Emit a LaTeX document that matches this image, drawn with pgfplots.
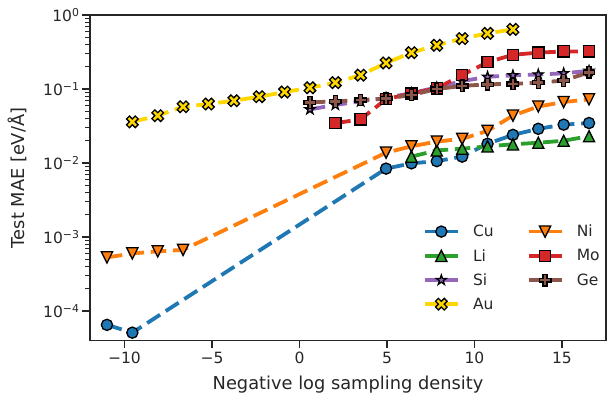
\documentclass[border=0pt]{standalone}
\usepackage{fontspec}
\setmainfont{DejaVu Sans}
\usepackage{pgfplots}
\pgfplotsset{compat=1.18}

\definecolor{cCu}{HTML}{1F77B4}
\definecolor{cLi}{HTML}{2CA02C}
\definecolor{cSi}{HTML}{9467BD}
\definecolor{cAu}{HTML}{FFD700}
\definecolor{cNi}{HTML}{FF7F0E}
\definecolor{cMo}{HTML}{D62728}
\definecolor{cGe}{HTML}{8C564B}
\definecolor{spine}{HTML}{262626}

\newcommand{\mpt}[2]{\pgfpoint{#1\pgfplotmarksize}{#2\pgfplotmarksize}}
\pgfdeclareplotmark{mtriup}{%
  \pgfpathmoveto{\mpt{0}{1}}\pgfpathlineto{\mpt{-1}{-1}}\pgfpathlineto{\mpt{1}{-1}}%
  \pgfpathclose\pgfusepathqfillstroke}
\pgfdeclareplotmark{mtridown}{%
  \pgfpathmoveto{\mpt{0}{-1}}\pgfpathlineto{\mpt{-1}{1}}\pgfpathlineto{\mpt{1}{1}}%
  \pgfpathclose\pgfusepathqfillstroke}
\pgfdeclareplotmark{mstar}{%
  \pgfpathmoveto{\pgfpointpolar{90}{\pgfplotmarksize}}%
  \pgfpathlineto{\pgfpointpolar{126}{0.382\pgfplotmarksize}}%
  \pgfpathlineto{\pgfpointpolar{162}{\pgfplotmarksize}}%
  \pgfpathlineto{\pgfpointpolar{198}{0.382\pgfplotmarksize}}%
  \pgfpathlineto{\pgfpointpolar{234}{\pgfplotmarksize}}%
  \pgfpathlineto{\pgfpointpolar{270}{0.382\pgfplotmarksize}}%
  \pgfpathlineto{\pgfpointpolar{306}{\pgfplotmarksize}}%
  \pgfpathlineto{\pgfpointpolar{342}{0.382\pgfplotmarksize}}%
  \pgfpathlineto{\pgfpointpolar{18}{\pgfplotmarksize}}%
  \pgfpathlineto{\pgfpointpolar{54}{0.382\pgfplotmarksize}}%
  \pgfpathclose\pgfusepathqfillstroke}
\pgfdeclareplotmark{mplus}{%
  \pgfpathmoveto{\mpt{-0.3333}{-1}}\pgfpathlineto{\mpt{0.3333}{-1}}%
  \pgfpathlineto{\mpt{0.3333}{-0.3333}}\pgfpathlineto{\mpt{1}{-0.3333}}%
  \pgfpathlineto{\mpt{1}{0.3333}}\pgfpathlineto{\mpt{0.3333}{0.3333}}%
  \pgfpathlineto{\mpt{0.3333}{1}}\pgfpathlineto{\mpt{-0.3333}{1}}%
  \pgfpathlineto{\mpt{-0.3333}{0.3333}}\pgfpathlineto{\mpt{-1}{0.3333}}%
  \pgfpathlineto{\mpt{-1}{-0.3333}}\pgfpathlineto{\mpt{-0.3333}{-0.3333}}%
  \pgfpathclose\pgfusepathqfillstroke}
\pgfdeclareplotmark{mx}{%
  \pgfpathmoveto{\mpt{-0.5}{-1}}\pgfpathlineto{\mpt{0}{-0.5}}%
  \pgfpathlineto{\mpt{0.5}{-1}}\pgfpathlineto{\mpt{1}{-0.5}}%
  \pgfpathlineto{\mpt{0.5}{0}}\pgfpathlineto{\mpt{1}{0.5}}%
  \pgfpathlineto{\mpt{0.5}{1}}\pgfpathlineto{\mpt{0}{0.5}}%
  \pgfpathlineto{\mpt{-0.5}{1}}\pgfpathlineto{\mpt{-1}{0.5}}%
  \pgfpathlineto{\mpt{-0.5}{0}}\pgfpathlineto{\mpt{-1}{-0.5}}%
  \pgfpathclose\pgfusepathqfillstroke}

\newcommand{\sups}[1]{\raisebox{4.3pt}{\fontsize{10.9}{11}\selectfont #1}}

\pgfplotsset{
  ser/.style n args={3}{color=#1, line width=3.8pt, dash pattern=on 15.4pt off 6.7pt,
    mark=#2, mark size=#3,
    mark options={solid, draw=black, fill=#1, line width=1.3pt}},
}

\begin{document}
\begin{tikzpicture}
\begin{axis}[
  name=ax,
  scale only axis, width=516pt, height=325.7pt,
  xmin=-11.97, xmax=17.52,
  ymode=log, ymin=3.97e-5, ymax=1,
  axis line style={draw=spine, line width=1.3pt},
  tick pos=left, tick align=outside,
  major tick length=7.5pt, minor tick length=4.5pt,
  tick style={draw=spine, line width=1.3pt},
  minor tick style={line width=1pt},
  xtick={-10,-5,0,5,10,15},
  xticklabels={−10,−5,0,5,10,15},
  ytick={1e-4,1e-3,1e-2,1e-1,1},
  yticklabels={10\sups{−4},10\sups{−3},10\sups{−2},10\sups{−1},10\sups{0}},
  tick label style={font=\fontsize{15.5}{18}\selectfont, text=spine},
  xlabel={Negative log sampling density},
  ylabel={Test MAE [eV/Å]},
  label style={font=\fontsize{17.8}{20}\selectfont, text=spine},
  xlabel style={at={(axis description cs:0.5,0)}, anchor=base, yshift=-48.8pt},
  ylabel style={at={(axis description cs:-0.126,0.5)}, anchor=base},
  legend columns=2,
  legend cell align=left,
  legend image code/.code={%
    \draw[mark repeat=2, mark phase=2, #1, solid] plot coordinates {(0pt,0pt) (16.5pt,0pt) (33pt,0pt)};},
  legend style={draw=none, fill=none, inner sep=0pt,
    at={(axis description cs:0.6448,0.356)}, anchor=north west,
    font=\fontsize{15.5}{18}\selectfont, text=spine,
    nodes={inner sep=0pt}, row sep=11pt,
    /tikz/every odd column/.append style={column sep=13.3pt},
    /tikz/every even column/.append style={column sep=33pt}},
]
% legend entries (row-wise order gives column-wise layout)
\addlegendimage{ser={cCu}{*}{5.6pt}}
\addlegendimage{ser={cNi}{mtridown}{5.6pt}}
\addlegendimage{ser={cLi}{mtriup}{5.6pt}}
\addlegendimage{ser={cMo}{square*}{5.6pt}}
\addlegendimage{ser={cSi}{mstar}{5.2pt}}
\addlegendimage{ser={cGe}{mplus}{5.8pt}}
\addlegendimage{ser={cAu}{mx}{5.8pt}}
\legend{Cu,Ni,Li,Mo,Si,Ge,Au}

\addplot[ser={cCu}{*}{5.6pt}, forget plot] coordinates {
(-11.0,6.5e-5) (-9.55,5.1e-5) (4.95,0.0084) (6.4,0.0099) (7.85,0.0106) (9.3,0.0122)
(10.75,0.0182) (12.2,0.0240) (13.65,0.0290) (15.1,0.0330) (16.55,0.0347)};
\addplot[ser={cLi}{mtriup}{5.6pt}, forget plot] coordinates {
(6.4,0.0122) (7.85,0.0148) (9.3,0.0156) (10.75,0.0168) (12.2,0.0179) (13.65,0.0188)
(15.1,0.0200) (16.55,0.0230)};
\addplot[ser={cSi}{mstar}{5.2pt}, forget plot] coordinates {
(0.6,0.053) (2.05,0.061) (3.5,0.068) (4.95,0.076) (6.4,0.088) (7.85,0.105) (9.3,0.128)
(10.75,0.146) (12.2,0.153) (13.65,0.157) (15.1,0.163) (16.55,0.176)};
\addplot[ser={cAu}{mx}{5.8pt}, forget plot] coordinates {
(-9.55,0.036) (-8.1,0.0436) (-6.65,0.0576) (-5.2,0.0627) (-3.75,0.0695) (-2.3,0.0787)
(-0.85,0.091) (0.6,0.104) (2.05,0.122) (3.5,0.154) (4.95,0.225) (6.4,0.31) (7.85,0.39)
(9.3,0.48) (10.75,0.565) (12.2,0.64)};
\addplot[ser={cNi}{mtridown}{5.6pt}, forget plot] coordinates {
(-11.0,5.3e-4) (-9.55,6.0e-4) (-8.1,6.4e-4) (-6.65,6.7e-4) (4.95,0.0138) (6.4,0.0168)
(7.85,0.0195) (9.3,0.0212) (10.75,0.0272) (12.2,0.0437) (13.65,0.058) (15.1,0.0667)
(16.55,0.0725)};
\addplot[ser={cMo}{square*}{5.6pt}, forget plot] coordinates {
(2.05,0.0345) (3.5,0.039) (4.95,0.073) (6.4,0.087) (7.85,0.102) (9.3,0.155) (10.75,0.23)
(12.2,0.29) (13.65,0.31) (15.1,0.322) (16.55,0.322)};
\addplot[ser={cGe}{mplus}{5.8pt}, forget plot] coordinates {
(0.6,0.066) (2.05,0.068) (3.5,0.071) (4.95,0.074) (6.4,0.083) (7.85,0.100) (9.3,0.110)
(10.75,0.116) (12.2,0.117) (13.65,0.122) (15.1,0.130) (16.55,0.168)};
\end{axis}
\pgfresetboundingbox
\path[use as bounding box] ([shift={(-90pt,-51.3pt)}]ax.south west) rectangle ([shift={(1pt,15pt)}]ax.north east);
\end{tikzpicture}
\end{document}
